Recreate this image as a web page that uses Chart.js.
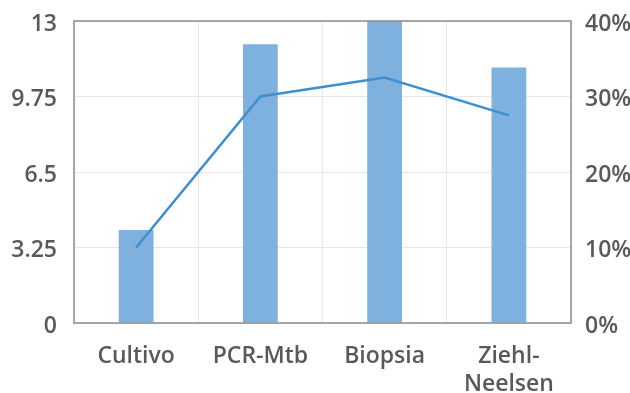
<!DOCTYPE html>
<html>
<head>
<meta charset="utf-8">
<script src="https://cdn.jsdelivr.net/npm/chart.js@4.4.1/dist/chart.umd.min.js"></script>
<style>
  html, body { margin: 0; padding: 0; background: #fff; }
  #wrap { width: 630px; height: 393px; }
</style>
</head>
<body>
<div id="wrap"><canvas id="chart" width="630" height="393"></canvas></div>
<script>
// data
const categories = ['Cultivo', 'PCR-Mtb', 'Biopsia', ['Ziehl-', 'Neelsen']];
const counts = [4, 12, 13, 11];
const percents = [10, 30, 32.5, 27.5];
const leftTicks = ['0', '3.25', '6.5', '9.75', '13'];
const rightTicks = ['0%', '10%', '20%', '30%', '40%'];

const textColor = '#595959';
const gridColor = '#e6e6e6';
const frameColor = '#8c8c8c';
const font = { family: '"Open Sans", sans-serif', size: 23, weight: '600', lineHeight: 1.22 };

// plot frame on all four sides
const framePlugin = {
    id: 'frame',
    afterDatasetsDraw(chart) {
        const a = chart.chartArea;
        const ctx = chart.ctx;
        ctx.save();
        ctx.strokeStyle = frameColor;
        ctx.lineWidth = 1.5;
        ctx.strokeRect(a.left, a.top, a.right - a.left, a.bottom - a.top);
        ctx.restore();
    }
};

const ctx = document.getElementById('chart').getContext('2d');
new Chart(ctx, {
    data: {
        labels: categories,
        datasets: [{
            type: 'line',
            data: percents,
            yAxisID: 'y2',
            borderColor: '#3d8fd0',
            borderWidth: 2.5,
            pointRadius: 0,
            fill: false,
            tension: 0,
            order: 0
        }, {
            type: 'bar',
            data: counts,
            yAxisID: 'y',
            backgroundColor: '#7fb1df',
            barPercentage: 0.35,
            categoryPercentage: 0.8,
            order: 1
        }]
    },
    plugins: [framePlugin],
    options: {
        responsive: false,
        animation: false,
        layout: { padding: { top: 21, left: 0, right: 0, bottom: 0 } },
        plugins: { legend: { display: false }, tooltip: { enabled: false } },
        scales: {
            x: {
                offset: true,
                grid: { color: gridColor, offset: true, drawTicks: false },
                border: { display: false },
                ticks: { color: textColor, font: font, padding: 19, maxRotation: 0 },
                afterFit: s => { s.height = 70; s.paddingLeft = 0; s.paddingRight = 0; }
            },
            y: {
                position: 'left',
                min: 0,
                max: 13,
                grid: { color: gridColor, drawTicks: false },
                border: { display: false },
                ticks: {
                    stepSize: 3.25,
                    color: textColor,
                    font: font,
                    padding: 17,
                    labelOffset: 3,
                    callback: (v, i) => leftTicks[i]
                },
                afterFit: s => { s.width = 74; s.paddingTop = 0; s.paddingBottom = 0; }
            },
            y2: {
                position: 'right',
                min: 0,
                max: 40,
                grid: { display: false, drawTicks: false },
                border: { display: false },
                ticks: {
                    stepSize: 10,
                    color: textColor,
                    font: font,
                    padding: 14,
                    labelOffset: 3,
                    callback: (v, i) => rightTicks[i]
                },
                afterFit: s => { s.width = 59; s.paddingTop = 0; s.paddingBottom = 0; }
            }
        }
    }
});
</script>
</body>
</html>
